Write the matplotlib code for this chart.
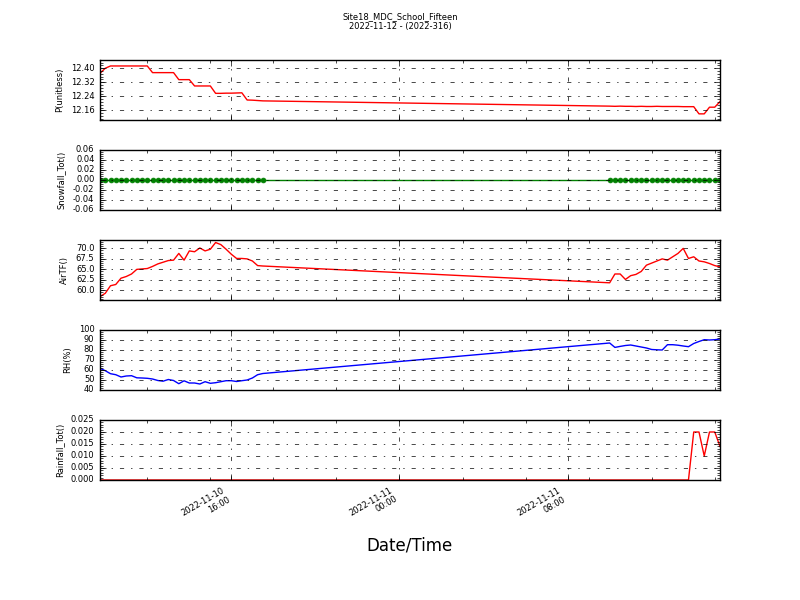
import pandas as pd
import numpy as np
import matplotlib
matplotlib.use('Agg')
import matplotlib.pyplot as plt
import matplotlib.dates as mdates
from matplotlib.ticker import MultipleLocator, FormatStrFormatter, AutoMinorLocator

# horodatage : deux blocs de mesures au quart d'heure
temps_1 = pd.date_range('2022-11-10 09:45', '2022-11-10 17:30', freq='15min')
temps_2 = pd.date_range('2022-11-11 10:00', '2022-11-11 15:15', freq='15min')
temps = temps_1.append(temps_2)

pression_1 = [12.371, 12.400, 12.413, 12.413, 12.413, 12.413, 12.413, 12.413, 12.413, 12.413,
              12.375, 12.375, 12.375, 12.375, 12.375, 12.335, 12.335, 12.335, 12.299, 12.299,
              12.299, 12.299, 12.257, 12.257, 12.258, 12.258, 12.259, 12.260, 12.219, 12.218,
              12.216, 12.214]
pression_2 = [12.184, 12.183, 12.184, 12.183, 12.183, 12.182, 12.183, 12.182, 12.182, 12.183,
              12.182, 12.182, 12.182, 12.182, 12.181, 12.181, 12.181, 12.140, 12.140, 12.178,
              12.178, 12.210]

neige_1 = [0.0] * 32
neige_2 = [0.0] * 22

temp_1 = [58.5, 59.3, 61.1, 61.4, 62.9, 63.3, 63.9, 65.0, 65.1, 65.2,
          65.7, 66.3, 66.7, 67.1, 67.2, 68.8, 67.2, 69.4, 69.2, 70.1,
          69.4, 69.8, 71.4, 70.9, 69.8, 68.6, 67.6, 67.6, 67.5, 67.0,
          65.9, 65.8]
temp_2 = [61.8, 63.9, 63.9, 62.6, 63.5, 63.8, 64.5, 66.0, 66.5, 67.0,
          67.5, 67.2, 68.0, 68.8, 70.0, 67.6, 68.0, 67.0, 66.8, 66.4,
          65.9, 65.6]

hr_1 = [61.7, 59.3, 56.3, 55.3, 53.0, 54.0, 54.3, 52.2, 52.0, 51.7,
        51.0, 49.5, 48.8, 50.5, 49.5, 46.3, 49.2, 47.0, 47.0, 46.0,
        48.3, 46.7, 47.3, 48.3, 49.3, 49.3, 48.5, 49.3, 50.0, 52.0,
        55.3, 56.5]
hr_2 = [87.0, 82.6, 83.6, 84.5, 85.0, 84.0, 83.0, 82.0, 80.5, 80.2,
        80.0, 85.3, 85.3, 84.8, 84.0, 83.3, 86.5, 88.5, 90.3, 90.0,
        90.3, 91.0]

pluie_1 = [0.0] * 32
pluie_2 = [0.0] * 16 + [0.02, 0.02, 0.01, 0.02, 0.02, 0.014]

pression = pression_1 + pression_2
neige = neige_1 + neige_2
temp = temp_1 + temp_2
hr = hr_1 + hr_2
pluie = pluie_1 + pluie_2

plt.style.use('classic')
fig, axes = plt.subplots(5, 1, figsize=(8, 6), dpi=100, facecolor='white')
fig.subplots_adjust(left=0.125, right=0.9, top=0.9, bottom=0.2, hspace=0.5)

# (valeurs, style, etiquette, limites, pas, format)
panneaux = [
    (pression, 'r-', 'P(unitless)', (12.105, 12.447), 0.08, '%.2f'),
    (neige, 'go-', 'Snowfall_Tot()', (-0.06, 0.06), 0.02, '%.2f'),
    (temp, 'r-', 'AirTF()', (57.7, 72.0), 2.5, '%.1f'),
    (hr, 'b-', 'RH(%)', (40, 100), 10, '%d'),
    (pluie, 'r-', 'Rainfall_Tot()', (0.0, 0.025), 0.005, '%.3f'),
]

for ax, (valeurs, style, etiquette, lim, pas, fmt) in zip(axes, panneaux):
    if style == 'go-':
        ax.plot(temps, valeurs, style, markersize=3.5, markeredgecolor='g', linewidth=1)
    else:
        ax.plot(temps, valeurs, style, linewidth=1)
    ax.set_xlim(temps[0], temps[-1])
    ax.set_ylim(lim)
    ax.yaxis.set_major_locator(MultipleLocator(pas))
    ax.yaxis.set_major_formatter(FormatStrFormatter(fmt))
    ax.yaxis.set_minor_locator(AutoMinorLocator(5))
    ax.xaxis.set_major_locator(mdates.HourLocator(byhour=[0, 8, 16]))
    ax.xaxis.set_minor_locator(mdates.HourLocator(byhour=range(0, 24, 3)))
    ax.xaxis.set_major_formatter(mdates.DateFormatter('%Y-%m-%d\n%H:%M'))
    ax.grid(True, which='major', color='k', linestyle='-.', linewidth=0.5)
    ax.set_ylabel(etiquette, fontsize=6)
    ax.tick_params(axis='y', labelsize=6)
    ax.tick_params(which='major', length=4, direction='in', top=True, right=True)
    ax.tick_params(which='minor', length=2, direction='in', top=True, right=True)
    if ax is not axes[-1]:
        ax.tick_params(axis='x', labelbottom=False)

axes[-1].tick_params(axis='x', labelsize=6)
for lab in axes[-1].get_xticklabels():
    lab.set_rotation(30)
    lab.set_ha('right')

axes[-1].set_xlabel('Date/Time', fontsize=12)
axes[-1].xaxis.set_label_coords(0.5, -0.95)

fig.suptitle('Site18_MDC_School_Fifteen\n2022-11-12 - (2022-316)', fontsize=6, y=0.98)

fig.savefig('out.png', dpi=100, facecolor='white')
